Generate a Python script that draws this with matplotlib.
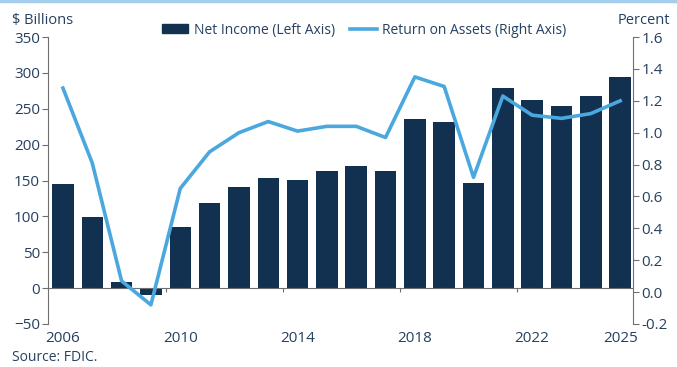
import numpy as np
import matplotlib.pyplot as plt
from matplotlib.patches import Patch
from matplotlib.lines import Line2D

plt.rcParams['font.family'] = ['Open Sans', 'DejaVu Sans']

years = np.arange(2006, 2026)
net_income = [145, 99, 8, -10, 85, 118, 141, 154, 151, 163, 170, 163, 236, 232,
              147, 279, 262, 254, 268, 295]
roa = [1.28, 0.81, 0.07, -0.08, 0.65, 0.88, 1.00, 1.07, 1.01, 1.04, 1.04, 0.97,
       1.35, 1.29, 0.72, 1.23, 1.11, 1.09, 1.12, 1.20]
label_years = [2006, 2010, 2014, 2018, 2022, 2025]
sep_ticks = [2009.5, 2013.5, 2017.5, 2021.5]

navy = '#12304f'
sky = '#4aa8de'
txt = '#26405f'
axcol = '#6f6f6f'

fig = plt.figure(figsize=(6.77, 3.67), dpi=100)
ax = fig.add_axes([0.0713, 0.1172, 0.8642, 0.7818])

ax.bar(years, net_income, width=0.73, color=navy, zorder=2)
ax.set_xlim(2005.5, 2025.45)
ax.set_ylim(-50, 350)
ax.set_yticks(np.arange(-50, 351, 50))

ax2 = ax.twinx()
ax2.plot(years, roa, color=sky, lw=2.6, zorder=3)
ax2.set_ylim(-0.2, 1.6)
ax2.set_yticks(np.arange(-0.2, 1.61, 0.2))
ax2.set_yticklabels(['%.1f' % v for v in np.arange(-0.2, 1.61, 0.2)])

# axis line through zero with short separators between year groups
for a in (ax, ax2):
    a.spines['top'].set_visible(False)
ax.spines['right'].set_visible(False)
ax2.spines['left'].set_visible(False)
ax2.spines['bottom'].set_visible(False)
ax.spines['bottom'].set_position(('data', 0))
ax.spines['bottom'].set_color(axcol)
ax.spines['left'].set_color(axcol)
ax2.spines['right'].set_color(axcol)
ax.set_xticks(sep_ticks)
ax.tick_params(axis='x', length=3, color=axcol, labelbottom=False)
ax.tick_params(axis='y', length=4, color=axcol, labelsize=11, labelcolor=txt, pad=2)
ax2.tick_params(axis='y', length=4, color=axcol, labelsize=11, labelcolor=txt, pad=2)

sec = ax.secondary_xaxis('bottom')
sec.set_xticks(label_years)
sec.spines['bottom'].set_visible(False)
sec.tick_params(length=0, labelsize=11, labelcolor=txt, pad=5)

fig.text(0.018, 0.945, '$ Billions', fontsize=10.5, color=txt, va='center')
fig.text(0.99, 0.945, 'Percent', fontsize=10.5, color=txt, va='center', ha='right')
fig.text(0.018, 0.027, 'Source: FDIC.', fontsize=10, color=txt, va='center')

handles = [Patch(color=navy), Line2D([], [], color=sky, lw=2.6)]
fig.legend(handles, ['Net Income (Left Axis)', 'Return on Assets (Right Axis)'],
           loc='center', bbox_to_anchor=(0.538, 0.918), ncol=2, frameon=False,
           fontsize=10, labelcolor=txt, handlelength=1.9, handleheight=0.55,
           handletextpad=0.4, columnspacing=1.1)

fig.add_artist(Line2D([0, 1], [0.996, 0.996], transform=fig.transFigure,
                      color='#a5cdec', lw=2.5))

fig.savefig('out.png', dpi=100)
